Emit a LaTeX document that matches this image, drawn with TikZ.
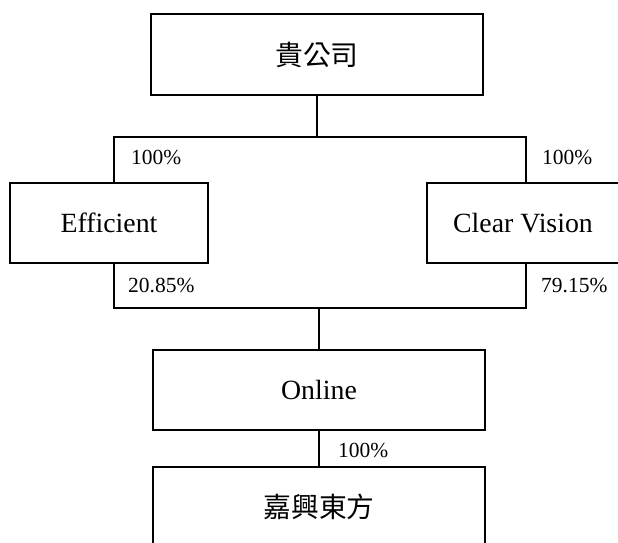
\documentclass[tikz,border=0pt]{standalone}
\usepackage{fontspec}
\setmainfont{Liberation Serif}
\newfontfamily\cjk{Noto Sans CJK TC}
\begin{document}
\begin{tikzpicture}[x=1pt,y=-1pt,
  box/.style={draw, line width=1.2pt, inner sep=0pt, font=\fontsize{27.8}{31}\selectfont},
  bar/.style={line width=1.7pt},
  conn/.style={line width=1.2pt},
  pct/.style={inner sep=0pt, anchor=west, font=\fontsize{21.5}{24}\selectfont}]
\clip (0,0) rectangle (618,543);
\fill[white] (0,0) rectangle (618,543);
\node[box, minimum width=332pt, minimum height=81pt] (top) at (317,54.5) {\cjk 貴公司};
\node[box, minimum width=198pt, minimum height=80pt] (eff) at (109,223) {Efficient};
\node[box, minimum width=192pt, minimum height=80pt] (cv) at (523,223) {Clear Vision};
\node[box, minimum width=332pt, minimum height=80pt] (online) at (319,390) {Online};
\node[box, minimum width=332pt, minimum height=80pt] (jx) at (319,507) {\cjk 嘉興東方};
\coordinate (tl) at (114,137);
\coordinate (tr) at (526,137);
\coordinate (bl) at (114,308);
\coordinate (br) at (526,308);
\draw[conn] (top.south) -- (top.south |- tl);
\draw[bar] (eff.north -| tl) -- (tl) -- (tr) -- (cv.north -| tr);
\draw[bar] (eff.south -| bl) -- (bl) -- (br) -- (cv.south -| br);
\draw[conn] (online.north |- bl) -- (online.north);
\draw[conn] (online.south) -- (jx.north);
\node[pct] (p1) at (131,157) {100\%};
\node[pct] (p2) at (542,157) {100\%};
\node[pct] (p3) at (128,285) {20.85\%};
\node[pct] (p4) at (541,285) {79.15\%};
\node[pct] (p5) at (338,450) {100\%};
\end{tikzpicture}
\end{document}
